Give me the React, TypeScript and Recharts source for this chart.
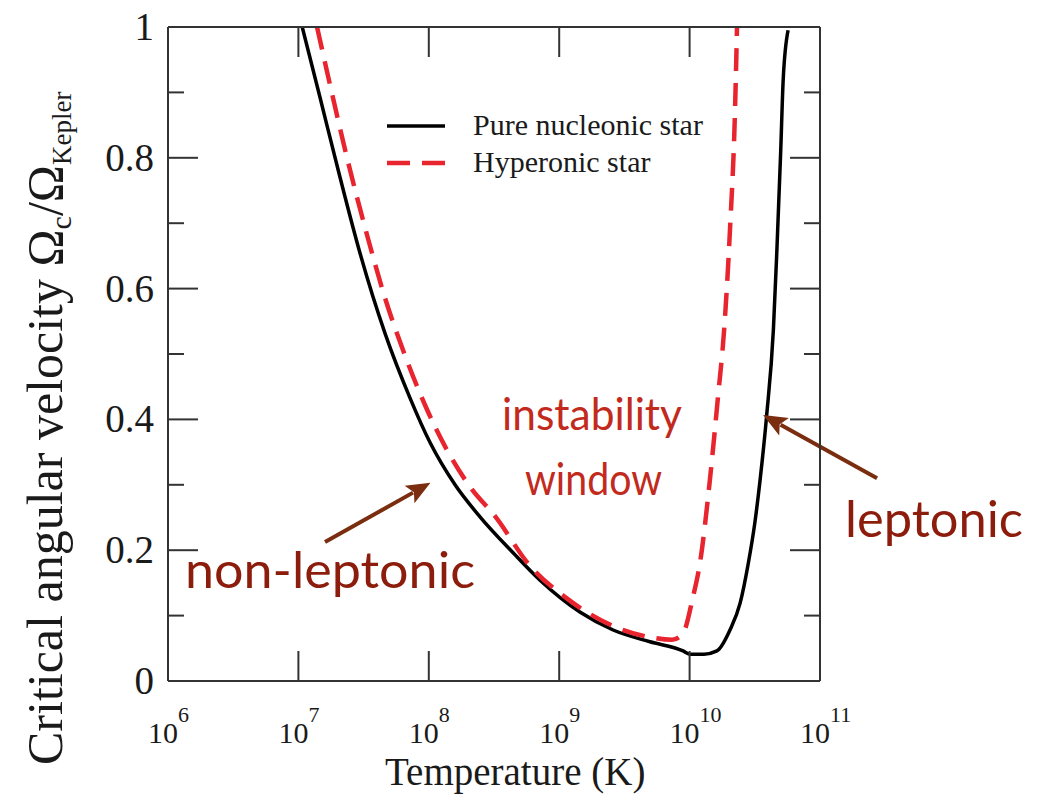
import { LineChart, Line, XAxis, YAxis, ReferenceLine, Legend } from 'recharts'

const TEMP_TICKS = [1e6, 1e7, 1e8, 1e9, 1e10, 1e11]
const TEMP_EXPONENTS = ['6', '7', '8', '9', '10', '11']
const OMEGA_TICKS = [0, 0.1, 0.2, 0.3, 0.4, 0.5, 0.6, 0.7, 0.8, 0.9, 1]
const OMEGA_MAJOR = [0, 0.2, 0.4, 0.6, 0.8, 1]
const OMEGA_LABELS = ['0', '0.2', '0.4', '0.6', '0.8', '1']

// pure nucleonic star
const NUCLEONIC_T = [
  1.07e7, 1.47e7, 2.08e7, 2.97e7, 4.61e7, 7.17e7, 1.02e8, 1.59e8, 2.47e8, 4.43e8, 7.13e8,
  1.45e9, 2.59e9, 4.97e9, 8.9e9, 1.0e10, 1.29e10, 1.62e10, 2.04e10, 2.44e10, 2.82e10,
  3.16e10, 3.47e10, 3.89e10, 4.39e10, 4.66e10, 4.99e10, 5.22e10, 5.69e10,
]
const NUCLEONIC_OMEGA = [
  1.0, 0.891, 0.771, 0.654, 0.532, 0.433, 0.365, 0.3, 0.251, 0.196, 0.154,
  0.105, 0.078, 0.06, 0.046, 0.041, 0.041, 0.046, 0.078, 0.119, 0.18,
  0.241, 0.307, 0.404, 0.537, 0.654, 0.807, 0.919, 0.995,
]

// hyperonic star
const HYPERONIC_T = [
  1.39e7, 1.75e7, 2.36e7, 3.36e7, 4.61e7, 6.34e7, 9.35e7, 1.38e8, 2.07e8, 3.22e8,
  5.97e8, 1.15e9, 2.59e9, 4.97e9, 7.33e9, 8.9e9, 1.06e10, 1.2e10, 1.43e10, 1.65e10,
  1.84e10, 2.04e10, 2.23e10, 2.31e10,
]
const HYPERONIC_OMEGA = [
  1.0, 0.911, 0.8, 0.682, 0.586, 0.506, 0.422, 0.353, 0.297, 0.252,
  0.176, 0.126, 0.084, 0.067, 0.063, 0.073, 0.128, 0.18, 0.307, 0.434,
  0.537, 0.69, 0.873, 1.0,
]

// annotation arrows: [tail, tip]
const NON_LEPTONIC_ARROW = [{ x: 1.6e7, y: 0.2125 }, { x: 1.03e8, y: 0.303 }]
const LEPTONIC_ARROW = [{ x: 2.74e11, y: 0.31 }, { x: 3.66e10, y: 0.4067 }]

const nucleonic = NUCLEONIC_T.map((t, i) => ({ t, omega: NUCLEONIC_OMEGA[i] }))
const hyperonic = HYPERONIC_T.map((t, i) => ({ t, omega: HYPERONIC_OMEGA[i] }))

const AXIS = '#333'
const INK = '#1a1a1a'
const RED = '#e8242e'
const ARROW = '#7b2d0f'
const DARK_RED = '#8c1c0c'
const SERIF = "'Liberation Serif', 'Times New Roman', serif"
const HAND = "Lato, 'Open Sans', sans-serif"
const DASH = '23 12'

const SERIES_ORDER = ['Pure nucleonic star', 'Hyperonic star']
const SERIES_STYLE: Record<string, { stroke: string; dash?: string; width: number }> = {
  'Pure nucleonic star': { stroke: '#000', width: 3.5 },
  'Hyperonic star': { stroke: RED, dash: DASH, width: 4.5 },
}

function LeftTick({ x, y, payload }: any) {
  const idx = OMEGA_MAJOR.indexOf(payload.value)
  return (
    <g>
      <line x1={x} y1={y} x2={x + (idx >= 0 ? 30 : 16)} y2={y} stroke={AXIS} strokeWidth={2} />
      {idx >= 0 && (
        <text x={x - 14} y={y + 13} textAnchor="end" fontFamily={SERIF} fontSize={39} fill={INK}>
          {OMEGA_LABELS[idx]}
        </text>
      )}
    </g>
  )
}

function RightTick({ x, y, payload }: any) {
  const major = OMEGA_MAJOR.indexOf(payload.value) >= 0
  return <line x1={x} y1={y} x2={x - (major ? 30 : 16)} y2={y} stroke={AXIS} strokeWidth={2} />
}

function BottomTick({ x, y, index }: any) {
  return (
    <g>
      <line x1={x} y1={y} x2={x} y2={y - 30} stroke={AXIS} strokeWidth={2} />
      <text x={x + 10} y={y + 62} textAnchor="end" fontFamily={SERIF} fontSize={30} fill={INK}>
        10
      </text>
      <text x={x + 10} y={y + 41} textAnchor="start" fontFamily={SERIF} fontSize={22} fill={INK}>
        {TEMP_EXPONENTS[index]}
      </text>
    </g>
  )
}

function TopTick({ x, y }: any) {
  return <line x1={x} y1={y} x2={x} y2={y + 30} stroke={AXIS} strokeWidth={2} />
}

function Arrow({ x1, y1, x2, y2 }: any) {
  const ang = Math.atan2(y2 - y1, x2 - x1)
  const len = 24
  const half = 10
  const bx = x2 - len * Math.cos(ang)
  const by = y2 - len * Math.sin(ang)
  const px = -Math.sin(ang) * half
  const py = Math.cos(ang) * half
  return (
    <g>
      <line x1={x1} y1={y1} x2={bx + 4 * Math.cos(ang)} y2={by + 4 * Math.sin(ang)} stroke={ARROW} strokeWidth={4} />
      <polygon
        points={`${x2},${y2} ${bx + px},${by + py} ${bx + 5 * Math.cos(ang)},${by + 5 * Math.sin(ang)} ${bx - px},${by - py}`}
        fill={ARROW}
      />
    </g>
  )
}

function LegendBox({ payload }: any) {
  const items = SERIES_ORDER.filter((name) => (payload || []).some((p: any) => p.value === name))
  return (
    <svg width={340} height={80}>
      {items.map((name, i) => {
        const s = SERIES_STYLE[name]
        const cy = 26 + i * 37
        return (
          <g key={name}>
            <line x1={7} y1={cy} x2={65} y2={cy} stroke={s.stroke} strokeWidth={s.width} strokeDasharray={s.dash} />
            <text x={93} y={cy + 9} fontFamily={SERIF} fontSize={30} fill={INK}>
              {name}
            </text>
          </g>
        )
      })}
    </svg>
  )
}

export default function App() {
  return (
    <div style={{ position: 'absolute', left: 0, top: 0, width: 1037, height: 797, background: '#fff' }}>
      <LineChart width={1037} height={797} margin={{ top: 17, right: 197, bottom: 56, left: 68 }}>
        <XAxis
          xAxisId="bottom"
          dataKey="t"
          type="number"
          scale="log"
          domain={[1e6, 1e11]}
          ticks={TEMP_TICKS}
          allowDataOverflow
          height={60}
          tickSize={0}
          tickMargin={0}
          tickLine={false}
          axisLine={{ stroke: AXIS, strokeWidth: 2 }}
          tick={<BottomTick />}
          interval={0}
        />
        <XAxis
          xAxisId="top"
          orientation="top"
          dataKey="t"
          type="number"
          scale="log"
          domain={[1e6, 1e11]}
          ticks={TEMP_TICKS}
          allowDataOverflow
          height={10}
          tickSize={0}
          tickMargin={0}
          tickLine={false}
          axisLine={{ stroke: AXIS, strokeWidth: 2 }}
          tick={<TopTick />}
          interval={0}
        />
        <YAxis
          yAxisId="left"
          type="number"
          domain={[0, 1]}
          ticks={OMEGA_TICKS}
          allowDataOverflow
          width={100}
          tickSize={0}
          tickMargin={0}
          tickLine={false}
          axisLine={{ stroke: AXIS, strokeWidth: 2 }}
          tick={<LeftTick />}
          interval={0}
        />
        <YAxis
          yAxisId="right"
          orientation="right"
          type="number"
          domain={[0, 1]}
          ticks={OMEGA_TICKS}
          allowDataOverflow
          width={20}
          tickSize={0}
          tickMargin={0}
          tickLine={false}
          axisLine={{ stroke: AXIS, strokeWidth: 2 }}
          tick={<RightTick />}
          interval={0}
        />
        <Legend
          layout="horizontal"
          verticalAlign="middle"
          align="center"
          content={<LegendBox />}
          wrapperStyle={{ left: 380, top: 100, width: 340, height: 80 }}
        />
        <Line
          xAxisId="bottom"
          yAxisId="left"
          data={nucleonic}
          dataKey="omega"
          name="Pure nucleonic star"
          type="monotone"
          stroke="#000"
          strokeWidth={3.5}
          dot={false}
          isAnimationActive={false}
        />
        <Line
          xAxisId="bottom"
          yAxisId="left"
          data={hyperonic}
          dataKey="omega"
          name="Hyperonic star"
          type="monotone"
          stroke={RED}
          strokeWidth={4.5}
          strokeDasharray={DASH}
          dot={false}
          isAnimationActive={false}
        />
        <ReferenceLine
          xAxisId="bottom"
          yAxisId="left"
          segment={NON_LEPTONIC_ARROW}
          ifOverflow="visible"
          shape={Arrow}
        />
        <ReferenceLine
          xAxisId="bottom"
          yAxisId="left"
          segment={LEPTONIC_ARROW}
          ifOverflow="visible"
          shape={Arrow}
        />
      </LineChart>
      <svg width={1037} height={797} style={{ position: 'absolute', left: 0, top: 0, pointerEvents: 'none' }}>
        <text x={385} y={785} fontFamily={SERIF} fontSize={39} fill={INK}>
          Temperature (K)
        </text>
        <text transform="translate(62, 765) rotate(-90)" fontFamily={SERIF} fontSize={50} fill={INK}>
          Critical angular velocity Ω
          <tspan dy={9} fontSize={30}>c</tspan>
          <tspan dy={-9}>/Ω</tspan>
          <tspan dy={9} fontSize={27}>Kepler</tspan>
        </text>
        <text x={185} y={588} fontFamily={HAND} fontSize={50} fill={DARK_RED} textLength={290} lengthAdjust="spacingAndGlyphs">
          non-leptonic
        </text>
        <text x={845} y={537} fontFamily={HAND} fontSize={50} fill={DARK_RED} textLength={178} lengthAdjust="spacingAndGlyphs">
          leptonic
        </text>
        <text x={502} y={430} fontFamily={HAND} fontSize={44} fill="#c32a1e" textLength={180} lengthAdjust="spacingAndGlyphs">
          instability
        </text>
        <text x={525} y={495} fontFamily={HAND} fontSize={44} fill="#c32a1e" textLength={137} lengthAdjust="spacingAndGlyphs">
          window
        </text>
      </svg>
    </div>
  )
}
